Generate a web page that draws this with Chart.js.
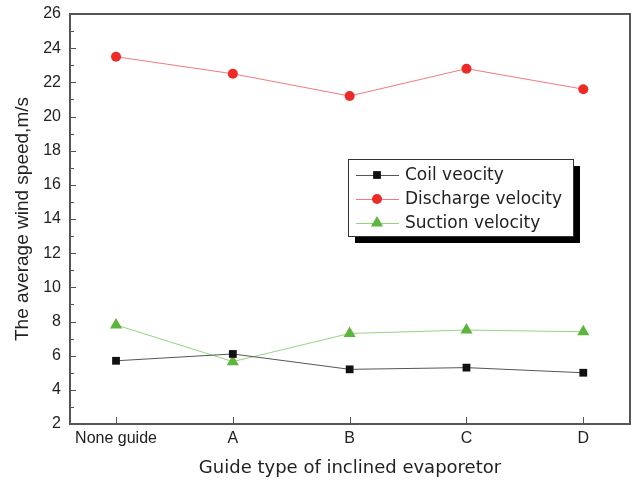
<!DOCTYPE html>
<html>
<head>
<meta charset="utf-8">
<script src="https://cdn.jsdelivr.net/npm/chart.js@4"></script>
<style>
html, body { margin: 0; padding: 0; background: #fff; overflow: hidden; }
canvas { display: block; }
</style>
</head>
<body>
<canvas id="speedChart" width="631" height="486"></canvas>
<script>
const guideTypes = ['None guide', 'A', 'B', 'C', 'D'];
const coilVelocity = [5.7, 6.1, 5.2, 5.3, 5.0];
const dischargeVelocity = [23.5, 22.5, 21.2, 22.8, 21.6];
const suctionVelocity = [7.8, 5.65, 7.3, 7.5, 7.4];
const yTicks = [2, 4, 6, 8, 10, 12, 14, 16, 18, 20, 22, 24, 26];

const toPoints = arr => arr.map((v, i) => ({ x: i, y: v }));

// frame + inward ticks, like the origin plot
const framePlugin = {
    id: 'frame',
    afterDraw(chart) {
        const ctx = chart.ctx;
        const a = chart.chartArea;
        const xs = chart.scales.x, ys = chart.scales.y;
        ctx.save();
        ctx.strokeStyle = '#555';
        ctx.lineWidth = 1;
        ctx.beginPath();
        for (let v = 2; v <= 26; v++) {
            const y = Math.round(ys.getPixelForValue(v)) + 0.5;
            const len = v % 2 === 0 ? 6 : 4;
            ctx.moveTo(a.left, y);
            ctx.lineTo(a.left + len, y);
        }
        guideTypes.forEach((g, i) => {
            const x = Math.round(xs.getPixelForValue(i)) + 0.5;
            ctx.moveTo(x, a.bottom);
            ctx.lineTo(x, a.bottom - 7);
        });
        ctx.stroke();
        ctx.lineWidth = 2;
        ctx.strokeRect(a.left, a.top, a.right - a.left, a.bottom - a.top);
        ctx.restore();
    }
};

// boxed legend with drop shadow inside the plot
const legendPlugin = {
    id: 'boxLegend',
    afterDraw(chart) {
        const ctx = chart.ctx;
        const bx = 348, by = 159, bw = 225, bh = 77;
        ctx.save();
        ctx.fillStyle = '#000';
        ctx.fillRect(bx + 7, by + 7, bw, bh);
        ctx.fillStyle = '#fff';
        ctx.fillRect(bx, by, bw, bh);
        ctx.strokeStyle = '#333';
        ctx.lineWidth = 1;
        ctx.strokeRect(bx + 0.5, by + 0.5, bw, bh);
        ctx.font = '17px "DejaVu Sans", sans-serif';
        ctx.textBaseline = 'middle';
        chart.data.datasets.forEach((ds, i) => {
            const y = 175 + i * 24;
            ctx.strokeStyle = ds.borderColor;
            ctx.lineWidth = 1;
            ctx.beginPath();
            ctx.moveTo(356, y + 0.5);
            ctx.lineTo(399, y + 0.5);
            ctx.stroke();
            ctx.fillStyle = ds.pointBackgroundColor;
            ctx.strokeStyle = ds.pointBackgroundColor;
            Chart.helpers.drawPoint(ctx, {
                pointStyle: ds.pointStyle,
                radius: ds.pointRadius,
                rotation: 0,
                borderWidth: 0
            }, 377, y);
            ctx.fillStyle = '#222';
            ctx.fillText(ds.label, 405, y + 1);
        });
        ctx.restore();
    }
};

// no extra label padding, the plot box is fixed
const fixPadding = scale => {
    scale.paddingTop = 0;
    scale.paddingBottom = 0;
    scale.paddingLeft = 0;
    scale.paddingRight = 0;
};

Chart.defaults.font.family = "'Liberation Sans', Arial, sans-serif";
Chart.defaults.color = '#222';

const speedCtx = document.getElementById('speedChart').getContext('2d');
new Chart(speedCtx, {
    type: 'line',
    data: {
        datasets: [{
            label: 'Coil veocity',
            data: toPoints(coilVelocity),
            borderColor: '#555555',
            borderWidth: 1,
            pointStyle: 'rect',
            pointRadius: 5.5,
            pointBackgroundColor: '#111111',
            pointBorderWidth: 0,
            fill: false
        }, {
            label: 'Discharge velocity',
            data: toPoints(dischargeVelocity),
            borderColor: '#f27a7a',
            borderWidth: 1,
            pointStyle: 'circle',
            pointRadius: 5,
            pointBackgroundColor: '#ee2a26',
            pointBorderWidth: 0,
            fill: false
        }, {
            label: 'Suction velocity',
            data: toPoints(suctionVelocity),
            borderColor: '#94d47e',
            borderWidth: 1,
            pointStyle: 'triangle',
            pointRadius: 7,
            pointBackgroundColor: '#5cb53c',
            pointBorderWidth: 0,
            fill: false
        }]
    },
    options: {
        responsive: false,
        animation: false,
        devicePixelRatio: 1,
        layout: {
            autoPadding: false,
            padding: { top: 14, right: 1, left: 0, bottom: 0 }
        },
        plugins: {
            legend: { display: false },
            tooltip: { enabled: false }
        },
        scales: {
            x: {
                type: 'linear',
                min: -0.394,
                max: 4.4,
                grid: { display: false, drawTicks: false },
                border: { display: false },
                afterBuildTicks: scale => {
                    scale.ticks = guideTypes.map((g, i) => ({ value: i }));
                },
                afterFit: scale => { scale.height = 62; fixPadding(scale); },
                ticks: {
                    padding: 5,
                    font: { size: 16 },
                    color: '#222',
                    callback: value => guideTypes[value]
                },
                title: {
                    display: true,
                    text: 'Guide type of inclined evaporetor',
                    font: { size: 18, family: "'DejaVu Sans', sans-serif" },
                    color: '#222',
                    padding: { top: 0, bottom: 7 }
                }
            },
            y: {
                min: 2,
                max: 26,
                grid: { display: false, drawTicks: false },
                border: { display: false },
                afterBuildTicks: scale => {
                    scale.ticks = yTicks.map(v => ({ value: v }));
                },
                afterFit: scale => { scale.width = 70; fixPadding(scale); },
                ticks: {
                    padding: 9,
                    font: { size: 16 },
                    color: '#222'
                },
                title: {
                    display: true,
                    text: 'The average wind speed,m/s',
                    font: { size: 19 },
                    color: '#222',
                    padding: { top: 11, bottom: 0 }
                }
            }
        }
    },
    plugins: [framePlugin, legendPlugin]
});
</script>
</body>
</html>
